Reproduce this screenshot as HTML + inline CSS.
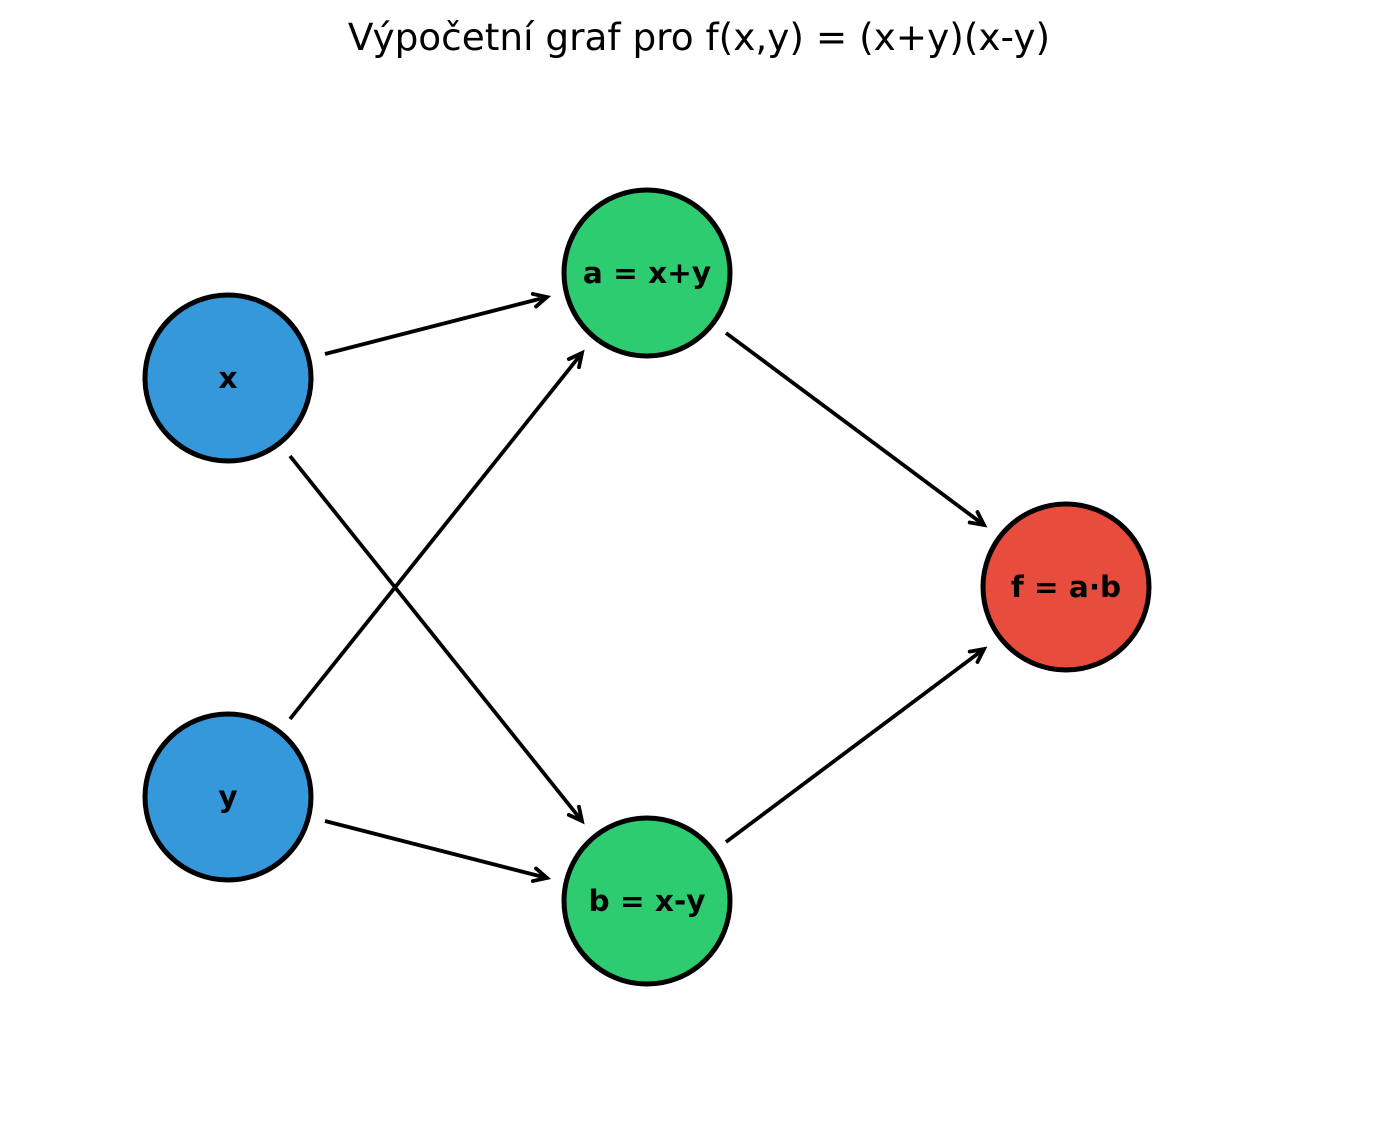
<!DOCTYPE html>
<html><head><meta charset="utf-8"><style>
html,body{margin:0;padding:0;background:#fff;}
svg{display:block;}
text{font-family:"DejaVu Sans","Liberation Sans",sans-serif;}
</style></head><body>
<svg width="1398" height="1130" viewBox="0 0 1398 1130" xmlns="http://www.w3.org/2000/svg">
<defs>
<marker id="ah" markerUnits="userSpaceOnUse" markerWidth="30" markerHeight="30" refX="0" refY="0" viewBox="-15 -15 30 30" orient="auto">
<path d="M-13,-6.5 L0,0 L-13,6.5" fill="none" stroke="#000" stroke-width="3.8" stroke-linecap="round" stroke-linejoin="miter"/>
</marker>
</defs>
<text x="699" y="50" font-size="37.4" text-anchor="middle" fill="#000">Výpočetní graf pro f(x,y) = (x+y)(x-y)</text>
<g stroke="#000" stroke-width="3.8" fill="none" marker-end="url(#ah)">
<line x1="325" y1="354" x2="547" y2="297"/>
<line x1="290" y1="456" x2="582" y2="821"/>
<line x1="290" y1="719" x2="582" y2="353"/>
<line x1="325" y1="821" x2="547" y2="878"/>
<line x1="726" y1="333" x2="984" y2="525"/>
<line x1="726" y1="842" x2="984" y2="649"/>
</g>
<g stroke="#000" stroke-width="5">
<circle cx="228" cy="378" r="83" fill="#3498db"/>
<circle cx="228" cy="797" r="83" fill="#3498db"/>
<circle cx="647" cy="273" r="83" fill="#2ecc71"/>
<circle cx="647" cy="901" r="83" fill="#2ecc71"/>
<circle cx="1066" cy="587" r="83" fill="#e74c3c"/>
</g>
<g font-size="29.5" font-weight="bold" text-anchor="middle" fill="#000">
<text x="228" y="388">x</text>
<text x="228" y="807">y</text>
<text x="647" y="283">a = x+y</text>
<text x="647" y="911">b = x-y</text>
<text x="1066" y="597">f = a·b</text>
</g>
</svg>
</body></html>
